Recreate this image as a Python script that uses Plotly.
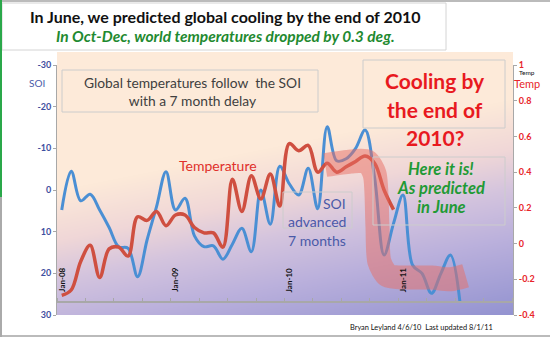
import zlib, struct, base64
import plotly.graph_objects as go

# ---------------- data ----------------
tick_months = [0, 12, 24, 36]
tick_labels = ["Jan-08", "Jan-09", "Jan-10", "Jan-11"]

temp_months = list(range(36))
temp_values = [-0.29, -0.26, -0.10, -0.01, -0.19, -0.03, -0.02, -0.07, 0.15, 0.13,
               0.18, 0.10, 0.16, 0.16, 0.09, 0.06, 0.06, -0.02, 0.36, 0.18,
               0.38, 0.25, 0.39, 0.21, 0.56, 0.52, 0.55, 0.40, 0.45, 0.40,
               0.43, 0.46, 0.49, 0.45, 0.30, 0.19]

soi_months = list(range(43))
soi_values = [4.8, -4.5, 2.6, 1.0, 4.8, 9.0, 13.6, 14.0, 20.8, 12.0,
              4.0, -4.4, 4.8, 2.0, 11.0, 13.6, 13.4, 16.6, 13.0, 9.2,
              14.8, 0.0, 8.2, -5.7, -1.5, 1.2, -5.2, 4.5, -15.2, -7.0,
              -7.5, -10.0, -14.4, -3.0, 15.6, 8.0, 1.2, 18.0, 20.0, 24.8,
              20.0, 15.6, 26.8]

band_months = [27.8, 30.5, 32.2, 33.0, 33.3, 33.5, 34.4, 36.5, 39, 41, 42.6]
band_values = [0.44, 0.46, 0.46, 0.39, 0.10, -0.10, -0.18, -0.19, -0.19, -0.20, -0.18]

soi_ticks = [-30, -20, -10, 0, 10, 20, 30]
temp_ticks = [-0.4, -0.2, 0, 0.2, 0.4, 0.6, 0.8, 1]

# ---------------- layout helpers ----------------
W, H = 550, 337
L, R, T, B = 57, 513, 65, 315


def P(x, y):
    return (x - L) / (R - L), (B - y) / (B - T)


def make_png(w, h, func):
    raw = bytearray()
    for yy in range(h):
        raw.append(0)
        for xx in range(w):
            raw.extend(func(xx, yy))

    def chunk(t, d):
        return struct.pack('>I', len(d)) + t + d + struct.pack('>I', zlib.crc32(t + d) & 0xffffffff)
    png = (b'\x89PNG\r\n\x1a\n' + chunk(b'IHDR', struct.pack('>IIBBBBB', w, h, 8, 2, 0, 0, 0))
           + chunk(b'IDAT', zlib.compress(bytes(raw), 9)) + chunk(b'IEND', b''))
    return 'data:image/png;base64,' + base64.b64encode(png).decode()


stops = [(0, (253, 234, 217)), (190, (253, 234, 217)), (240, (240, 215, 215)),
         (280, (212, 196, 222)), (330, (186, 176, 220)), (430, (135, 138, 205))]


def grad(xx, yy):
    px, py = L + xx, 52 + yy
    s = py + 0.2 * (px - L)
    for (s0, c0), (s1, c1) in zip(stops[:-1], stops[1:]):
        if s <= s1:
            f = max(0.0, (s - s0) / (s1 - s0))
            return bytes(int(c0[k] + (c1[k] - c0[k]) * f) for k in range(3))
    return bytes(stops[-1][1])


bg = make_png(R - L, B - 52, grad)

fig = go.Figure()
fig.add_trace(go.Scatter(x=soi_months, y=soi_values, mode='lines', yaxis='y',
                         line=dict(color='#4a8fd4', width=3, shape='spline', smoothing=1),
                         hoverinfo='skip', showlegend=False))
fig.add_trace(go.Scatter(x=temp_months, y=temp_values, mode='lines', yaxis='y2',
                         line=dict(color='#cf4f40', width=3.5, shape='spline', smoothing=1),
                         hoverinfo='skip', showlegend=False))
fig.add_trace(go.Scatter(x=band_months, y=band_values, mode='lines', yaxis='y2',
                         line=dict(color='rgba(232,110,100,0.5)', width=24, shape='spline', smoothing=0.7),
                         hoverinfo='skip', showlegend=False))

FONT = 'Lato'
ann = []


def A(text, x, y, size, color, xanchor='center', yanchor='middle', **kw):
    px, py = P(x, y)
    ann.append(dict(text=text, x=px, y=py, xref='paper', yref='paper', showarrow=False,
                    xanchor=xanchor, yanchor=yanchor,
                    font=dict(family=FONT, size=size, color=color), **kw))


A('<b>In June, we predicted global cooling by the end of 2010</b>', 225, 16, 16, '#111111')
A('<b><i>In Oct-Dec, world temperatures dropped by 0.3 deg.</i></b>', 225, 36.5, 15.5, '#1f8a30')
A('SOI', 37, 83, 10, '#4a5aa8')
A('Global temperatures follow  the SOI<br>with a 7 month delay', 192, 91, 13.8, '#404040')
for line, yy in zip(['Cooling by', 'the end of', '2010?'], [81, 109, 137]):
    A('<b>' + line + '</b>', 435, yy, 21, '#e8191f')
for line, yy in zip(['Here it is!', 'As predicted', 'in June'], [169, 188, 207]):
    A('<b><i>' + line + '</i></b>', 441, yy, 16.5, '#1f9a35')
A('Temperature', 218, 165, 14, '#e0302a')
for line, yy in zip(['SOI', 'advanced', '7 months'], [203, 221, 240]):
    A(line, 348, yy, 14, '#4a5aa8', xanchor='right')
A('Bryan Leyland 4/6/10  Last updated 8/1/11', 348, 327, 7.4, '#111111', xanchor='left')
A('Temp', 527, 72, 6.5, '#111111')
A('Temp', 527, 84, 11, '#e8252a')

for m, lab in zip(tick_months, tick_labels):
    ann.append(dict(text='<b>' + lab + '</b>', x=m, y=25, xref='x', yref='y', showarrow=False,
                    textangle=-90, xanchor='center', yanchor='bottom',
                    font=dict(family=FONT, size=8, color='#111111')))

shapes = []


def rect(x0, y0, x1, y1, line='#cccccc', fill='rgba(0,0,0,0)', width=1):
    a0, b0 = P(x0, y0)
    a1, b1 = P(x1, y1)
    shapes.append(dict(type='rect', xref='paper', yref='paper', x0=a0, y0=b0, x1=a1, y1=b1,
                       line=dict(color=line, width=width), fillcolor=fill, layer='above'))


def seg(x0, y0, x1, y1, color, width=2):
    a0, b0 = P(x0, y0)
    a1, b1 = P(x1, y1)
    shapes.append(dict(type='line', xref='paper', yref='paper', x0=a0, y0=b0, x1=a1, y1=b1,
                       line=dict(color=color, width=width)))


rect(2, 3, 446, 50, line='#d4d4d4', fill='white')
rect(62, 70, 318, 112)
rect(363, 60, 505, 128)
rect(373, 157, 505, 225)
rect(283, 192, 352, 228)
seg(0, 1, 550, 1, '#bbbbbb')
seg(0, 336, 550, 336, '#bbbbbb')
seg(1, 0, 1, 197, '#2aa84a')
seg(1, 197, 1, 337, '#aaaaaa')

fig.update_layout(
    width=W, height=H, margin=dict(l=L, r=W - R, t=T, b=H - B),
    paper_bgcolor='white', plot_bgcolor='rgba(0,0,0,0)',
    font=dict(family=FONT),
    images=[dict(source=bg, xref='paper', yref='paper', x=0, y=(B - 52) / (B - T),
                 sizex=1, sizey=(B - 52) / (B - T), sizing='stretch', xanchor='left',
                 yanchor='top', layer='below')],
    xaxis=dict(range=[-0.5, 47.6], anchor='free', position=P(0, 302)[1],
               showgrid=False, zeroline=False, showline=True, linecolor='#a8a8a8', linewidth=2,
               showticklabels=False, ticks='',
               minor=dict(tick0=-0.5, dtick=3, ticks='inside', ticklen=3, tickcolor='#a8a8a8')),
    yaxis=dict(range=[30, -30], tickvals=soi_ticks, ticktext=['<b>%d</b>' % v for v in soi_ticks],
               showgrid=False, zeroline=False, showline=True, linecolor='#a8a8a8', linewidth=1,
               ticks='outside', ticklen=3, tickcolor='#a8a8a8',
               tickfont=dict(family=FONT, size=9, color='#3f4fa0')),
    yaxis2=dict(range=[-0.4, 1], overlaying='y', side='right', tickvals=temp_ticks,
                ticktext=['<b>%g</b>' % v for v in temp_ticks],
                showgrid=False, zeroline=False, showline=True, linecolor='#a8a8a8', linewidth=1,
                ticks='outside', ticklen=3, tickcolor='#a8a8a8',
                tickfont=dict(family=FONT, size=9, color='#e8252a')),
    annotations=ann, shapes=shapes,
)

fig.write_html('out.html')
